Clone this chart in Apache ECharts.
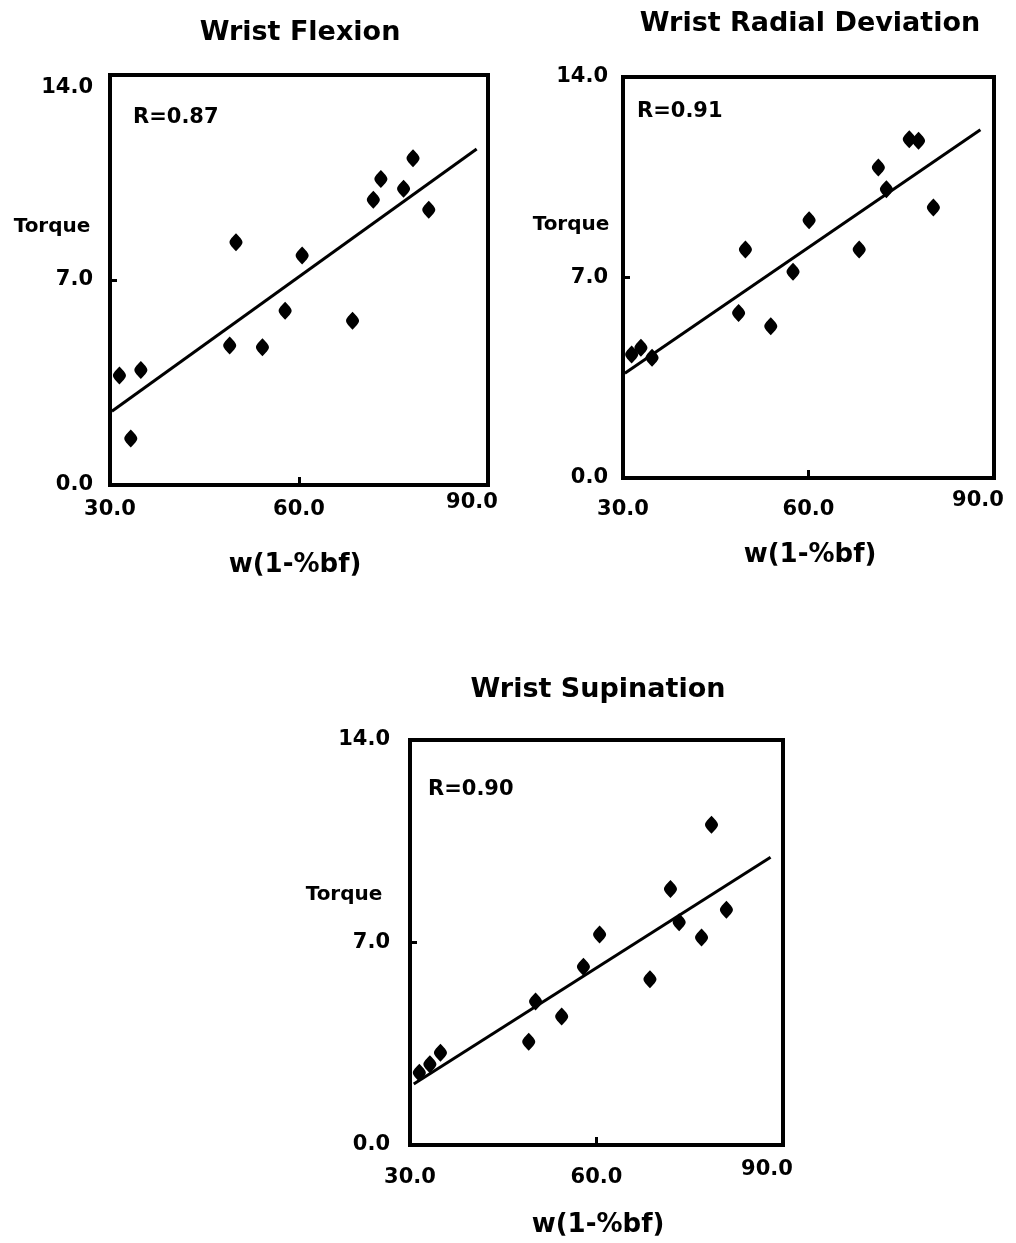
<!DOCTYPE html>
<html>
<head>
<meta charset="utf-8">
<script src="https://cdn.jsdelivr.net/npm/echarts@6/dist/echarts.min.js"></script>
<style>
html, body { margin: 0; background: #fff; }
#chart { width: 1016px; height: 1243px; }
</style>
</head>
<body>
<div id="chart"></div>
<script>
// tick values
var xTicks = [30, 60, 90];
var yTicks = [0, 7, 14];

// text
var titles = ['Wrist Flexion', 'Wrist Radial Deviation', 'Wrist Supination'];
var rLabels = ['R=0.87', 'R=0.91', 'R=0.90'];
var yName = 'Torque';
var xName = 'w(1-%bf)';

// Wrist Flexion
var flexionX = [31.5, 34.9, 33.3, 49.0, 50.0, 54.2, 57.8, 60.5, 68.5, 71.8, 73.0, 76.6, 78.1, 80.6];
var flexionY = [3.74, 3.93, 1.59, 4.76, 8.29, 4.70, 5.95, 7.84, 5.61, 9.74, 10.45, 10.12, 11.16, 9.40];
var flexionFitX = [30.3, 88.2];
var flexionFitY = [2.52, 11.47];

// Wrist Radial Deviation
var radialX = [31.4, 32.9, 34.7, 48.7, 49.8, 53.9, 57.5, 60.1, 68.2, 71.3, 72.6, 76.3, 77.8, 80.2];
var radialY = [4.31, 4.55, 4.20, 5.76, 7.98, 5.30, 7.20, 9.00, 7.98, 10.84, 10.08, 11.83, 11.77, 9.44];
var radialFitX = [30.3, 87.8];
var radialFitY = [3.66, 12.16];

// Wrist Supination
var supinationX = [31.5, 33.2, 34.9, 49.1, 50.2, 54.4, 57.9, 60.5, 68.6, 71.9, 73.3, 76.9, 78.5, 80.9];
var supinationY = [2.50, 2.79, 3.19, 3.57, 4.96, 4.44, 6.16, 7.28, 5.73, 8.85, 7.70, 7.17, 11.07, 8.13];
var supinationFitX = [30.6, 88.0];
var supinationFitY = [2.11, 9.95];

var sets = [
  { x: flexionX, y: flexionY, fx: flexionFitX, fy: flexionFitY },
  { x: radialX, y: radialY, fx: radialFitX, fy: radialFitY },
  { x: supinationX, y: supinationY, fx: supinationFitX, fy: supinationFitY }
];

// layout of the three panels (pixels)
var panels = [
  { grid: { left: 110, top: 75, width: 378, height: 410 }, xGap: 25, yGap: 17, yTopShift: 13, xEndShift: 7,
    title: [300, 33], r: [133, 118], torque: [52, 227], xname: [295, 565] },
  { grid: { left: 623, top: 77, width: 371, height: 401 }, xGap: 32, yGap: 15, yTopShift: 0, xEndShift: 9,
    title: [810, 24], r: [637, 112], torque: [571, 225], xname: [810, 555] },
  { grid: { left: 410, top: 740, width: 373, height: 405 }, xGap: 33, yGap: 20, yTopShift: 0, xEndShift: 8,
    title: [598, 690], r: [428, 790], torque: [344, 895], xname: [598, 1225] }
];

var FONT = 'DejaVu Sans';
var tickFont = { fontFamily: FONT, fontWeight: 'bold', fontSize: 21, color: '#000' };
var lemon = 'path://M6 0 C9 4 12 7 12 10 C12 13 9 16 6 20 C3 16 0 13 0 10 C0 7 3 4 6 0 Z';

var chart = echarts.init(document.getElementById('chart'));

var grids = [], xAxes = [], yAxes = [], series = [], graphics = [];

panels.forEach(function (p, i) {
  grids.push(Object.assign({ show: true, borderColor: '#000', borderWidth: 4, containLabel: false }, p.grid));

  xAxes.push({
    type: 'value', gridIndex: i, min: xTicks[0], max: xTicks[xTicks.length - 1], interval: xTicks[1] - xTicks[0],
    axisLine: { show: false }, splitLine: { show: false },
    axisTick: { show: true, inside: true, length: 8, lineStyle: { color: '#000', width: 3 } },
    axisLabel: Object.assign({
      margin: p.xGap, verticalAlign: 'middle',
      formatter: function (v) {
        return v === xTicks[xTicks.length - 1] ? '{end|' + v.toFixed(1) + '}' : v.toFixed(1);
      },
      rich: { end: Object.assign({ padding: [0, 32, p.xEndShift * 2, 0] }, tickFont) }
    }, tickFont)
  });

  yAxes.push({
    type: 'value', gridIndex: i, min: yTicks[0], max: yTicks[yTicks.length - 1], interval: yTicks[1] - yTicks[0],
    axisLine: { show: false }, splitLine: { show: false },
    axisTick: { show: true, inside: true, length: 7, lineStyle: { color: '#000', width: 3 } },
    axisLabel: Object.assign({
      margin: p.yGap,
      formatter: function (v) {
        return (v === yTicks[yTicks.length - 1] && p.yTopShift) ? '{top|' + v.toFixed(1) + '}' : v.toFixed(1);
      },
      rich: { top: Object.assign({ padding: [p.yTopShift * 2, 0, 0, 0] }, tickFont) }
    }, tickFont)
  });

  var s = sets[i];
  series.push({
    type: 'line', xAxisIndex: i, yAxisIndex: i, showSymbol: false, silent: true, z: 2,
    lineStyle: { color: '#000', width: 3 },
    data: s.fx.map(function (x, k) { return [x, s.fy[k]]; })
  });
  series.push({
    type: 'scatter', xAxisIndex: i, yAxisIndex: i, symbol: lemon, symbolSize: [13, 18], z: 3,
    itemStyle: { color: '#000', opacity: 1 },
    data: s.x.map(function (x, k) { return [x, s.y[k]]; })
  });

  graphics.push(
    { type: 'text', x: p.title[0], y: p.title[1],
      style: { text: titles[i], fill: '#000', font: 'bold 27px "DejaVu Sans"', textAlign: 'center', align: 'center', textVerticalAlign: 'middle', verticalAlign: 'middle' } },
    { type: 'text', x: p.r[0], y: p.r[1],
      style: { text: rLabels[i], fill: '#000', font: 'bold 21px "DejaVu Sans"', textAlign: 'left', align: 'left', textVerticalAlign: 'middle', verticalAlign: 'middle' } },
    { type: 'text', x: p.torque[0], y: p.torque[1],
      style: { text: yName, fill: '#000', font: 'bold 20px "DejaVu Sans"', textAlign: 'center', align: 'center', textVerticalAlign: 'middle', verticalAlign: 'middle' } },
    { type: 'text', x: p.xname[0], y: p.xname[1],
      style: { text: xName, fill: '#000', font: 'bold 26px "DejaVu Sans"', textAlign: 'center', align: 'center', textVerticalAlign: 'middle', verticalAlign: 'middle' } }
  );
});

chart.setOption({
  animation: false,
  backgroundColor: '#fff',
  grid: grids,
  xAxis: xAxes,
  yAxis: yAxes,
  series: series,
  graphic: graphics
});
</script>
</body>
</html>
